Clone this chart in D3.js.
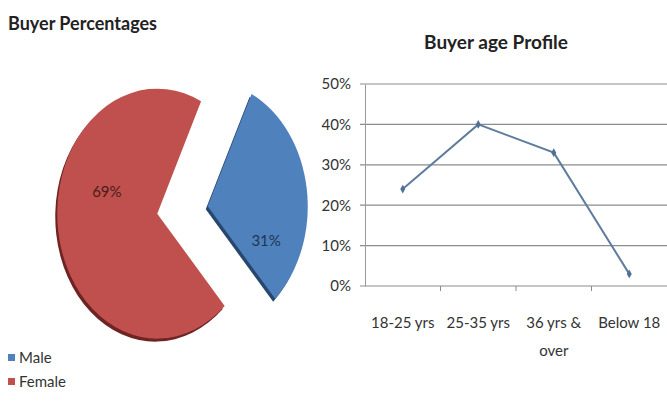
<!DOCTYPE html>
<html>
<head>
<meta charset="utf-8">
<script src="https://cdn.jsdelivr.net/npm/d3@7"></script>
<style>
	body { margin: 0; background: #fff; }
	text { font-family: Lato, 'Open Sans', sans-serif; }
</style>
</head>
<body>
<div id="chart"></div>
<script>
// pie data
const genders = ['Male', 'Female']
const genderShares = [31, 69]
const genderColours = ['#4f81bd', '#c0504d']
const genderShadows = ['#27476e', '#6e2422']

// line data
const ageGroups = ['18-25 yrs', '25-35 yrs', '36 yrs & over', 'Below 18']
const ageShares = [0.24, 0.40, 0.33, 0.03]
const yTicks = [0, 0.1, 0.2, 0.3, 0.4, 0.5]

const width = 667, height = 409

const svg = d3.select('#chart')
	.append('svg')
	.attr('width', width)
	.attr('height', height)

// ---- left: pie ----
svg.append('text')
	.attr('x', 8).attr('y', 30)
	.attr('font-size', 18).attr('font-weight', 'bold').attr('fill', '#222')
	.text('Buyer Percentages')

const pieCentre = {x: 182.5, y: 210}
const ry = 125, rx = 100
const explode = 25.5
const start = 26 * Math.PI / 180

const pie = d3.pie().sort(null).startAngle(start).endAngle(start + 2 * Math.PI)
const arcs = pie(genderShares)
const arc = d3.arc().innerRadius(0).outerRadius(ry)
const labelArc = d3.arc().innerRadius(ry * 0.6).outerRadius(ry * 0.6)
// nudges so the labels sit where the original put them
const labelNudge = [[-1, 47], [9, -31]]

const slice = svg.append('g')
	.selectAll('g')
	.data(arcs)
	.enter()
	.append('g')
	.attr('transform', d => {
		const mid = (d.startAngle + d.endAngle) / 2
		const dx = Math.sin(mid) * explode
		const dy = -Math.cos(mid) * explode
		return 'translate(' + (pieCentre.x + dx) + ',' + (pieCentre.y + dy) + ')'
	})

// dark 3d edge
slice.append('path')
	.attr('d', arc)
	.attr('transform', 'translate(-2,3) scale(' + rx / ry + ',1)')
	.attr('fill', (d, i) => genderShadows[i])

slice.append('path')
	.attr('d', arc)
	.attr('transform', 'scale(' + rx / ry + ',1)')
	.attr('fill', (d, i) => genderColours[i])

slice.append('text')
	.attr('x', (d, i) => labelArc.centroid(d)[0] * rx / ry + labelNudge[i][0])
	.attr('y', (d, i) => labelArc.centroid(d)[1] + labelNudge[i][1])
	.attr('text-anchor', 'middle')
	.attr('dominant-baseline', 'middle')
	.attr('font-size', 15)
	.attr('fill', (d, i) => i === 0 ? '#1f3550' : '#4a1d1b')
	.text(d => d.data + '%')

// legend
const legend = svg.append('g')
	.selectAll('g')
	.data(genders)
	.enter()
	.append('g')
	.attr('transform', (d, i) => 'translate(8,' + (354 + i * 24) + ')')
legend.append('rect')
	.attr('width', 7).attr('height', 7)
	.attr('fill', (d, i) => genderColours[i])
legend.append('text')
	.attr('x', 11).attr('y', 9)
	.attr('font-size', 15).attr('fill', '#333')
	.text(d => d)

// ---- right: line chart ----
const margin = {left: 365, right: 667, top: 84, bottom: 286}

svg.append('text')
	.attr('x', 496).attr('y', 49)
	.attr('text-anchor', 'middle')
	.attr('font-size', 19).attr('font-weight', 'bold').attr('fill', '#222')
	.text('Buyer age Profile')

const x = d3.scaleBand().domain(ageGroups).range([margin.left, margin.right])
const y = d3.scaleLinear().domain([0, 0.5]).range([margin.bottom, margin.top])

// grid lines
svg.append('g')
	.selectAll('line')
	.data(yTicks)
	.enter()
	.append('line')
	.attr('x1', margin.left - 5).attr('x2', margin.right)
	.attr('y1', d => y(d)).attr('y2', d => y(d))
	.attr('stroke', '#8c8c8c')
	.attr('stroke-width', 1.2)

const yAxis = svg.append('g')
	.attr('transform', 'translate(' + margin.left + ',0)')
	.call(d3.axisLeft(y).tickValues(yTicks).tickFormat(d3.format('.0%')).tickSize(0).tickPadding(14))
yAxis.select('.domain').attr('stroke', '#9a9a9a')
yAxis.selectAll('text').attr('font-size', 15).attr('fill', '#333')

const xAxis = svg.append('g')
	.attr('transform', 'translate(0,' + margin.bottom + ')')
	.call(d3.axisBottom(x).tickSize(0).tickPadding(31))
xAxis.select('.domain').remove()
xAxis.selectAll('text').attr('font-size', 15).attr('fill', '#333')
	.each(function (d) {
		if (d === '36 yrs & over') {
			const t = d3.select(this)
			t.text(null)
			t.append('tspan').attr('x', 0).text('36 yrs &')
			t.append('tspan').attr('x', 0).attr('dy', 28).text('over')
		}
	})

// category boundary ticks
svg.append('g')
	.selectAll('line')
	.data(ageGroups.slice(1))
	.enter()
	.append('line')
	.attr('x1', d => x(d)).attr('x2', d => x(d))
	.attr('y1', margin.bottom).attr('y2', margin.bottom + 5)
	.attr('stroke', '#8c8c8c')

const line = d3.line()
	.x((d, i) => x(ageGroups[i]) + x.bandwidth() / 2)
	.y(d => y(d))

svg.append('path')
	.datum(ageShares)
	.attr('d', line)
	.attr('fill', 'none')
	.attr('stroke', '#5f7c9c')
	.attr('stroke-width', 2)

svg.append('g')
	.selectAll('path')
	.data(ageShares)
	.enter()
	.append('path')
	.attr('d', d3.symbol(d3.symbolDiamond, 22))
	.attr('transform', (d, i) => 'translate(' + (x(ageGroups[i]) + x.bandwidth() / 2) + ',' + y(d) + ')')
	.attr('fill', '#4f6f94')
</script>
</body>
</html>
